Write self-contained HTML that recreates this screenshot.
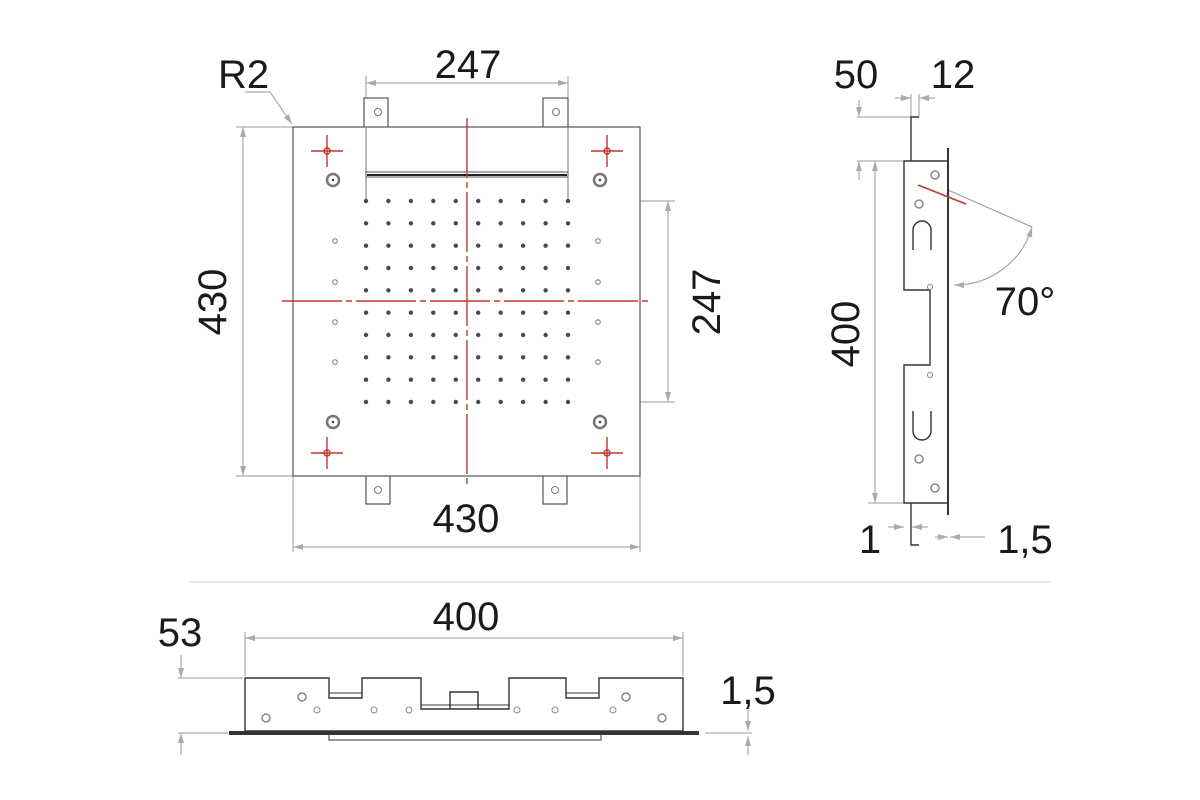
<!DOCTYPE html>
<html><head><meta charset="utf-8"><style>
html,body{margin:0;padding:0;background:#fff;}
svg{display:block;}
text{font-family:"Liberation Sans",sans-serif;fill:#1a1a1a;}
</style></head><body>
<svg width="1200" height="800" viewBox="0 0 1200 800" xmlns="http://www.w3.org/2000/svg">
<defs>
<marker id="ar" viewBox="0 0 10 6" refX="10" refY="3" markerWidth="10" markerHeight="6" orient="auto-start-reverse" markerUnits="userSpaceOnUse"><path d="M0,0 L10,3 L0,6 z" fill="#aaa"/></marker>
</defs>

<!-- FRONT VIEW -->
<g stroke="#999" stroke-width="1" fill="none">
  <!-- dimension 247 top -->
  <line x1="366" y1="76" x2="366" y2="128"/>
  <line x1="568" y1="76" x2="568" y2="128"/>
  <line x1="366" y1="83" x2="568" y2="83" marker-start="url(#ar)" marker-end="url(#ar)"/>
  <!-- left 430 -->
  <line x1="236" y1="127" x2="293" y2="127"/>
  <line x1="236" y1="476" x2="293" y2="476"/>
  <line x1="243" y1="127" x2="243" y2="476" marker-start="url(#ar)" marker-end="url(#ar)"/>
  <!-- bottom 430 -->
  <line x1="293" y1="476" x2="293" y2="552"/>
  <line x1="640" y1="476" x2="640" y2="552"/>
  <line x1="293" y1="547" x2="640" y2="547" marker-start="url(#ar)" marker-end="url(#ar)"/>
  <!-- right 247 -->
  <line x1="366" y1="201" x2="675" y2="201"/>
  <line x1="366" y1="402" x2="675" y2="402"/>
  <line x1="668" y1="201" x2="668" y2="402" marker-start="url(#ar)" marker-end="url(#ar)"/>
  <!-- R2 leader -->
  <polyline points="245,92 270,92 292,124" marker-end="url(#ar)"/>
</g>
<g stroke="#555" stroke-width="1.2" fill="#fff">
  <rect x="364" y="98" width="24" height="32"/>
  <rect x="543" y="98" width="25" height="32"/>
  <rect x="366" y="474" width="24" height="30"/>
  <rect x="543" y="474" width="24" height="30"/>
  <rect x="293" y="127" width="347" height="349"/>
</g>
<g stroke="#777" stroke-width="1" fill="none">
  <line x1="366" y1="127" x2="366" y2="201"/>
  <line x1="568" y1="127" x2="568" y2="201"/>
  <circle cx="378" cy="112" r="3.5"/><circle cx="556" cy="112" r="3.5"/>
  <circle cx="378" cy="490" r="3.5"/><circle cx="555" cy="490" r="3.5"/>
  <circle cx="335" cy="241" r="2.3"/><circle cx="335" cy="282" r="2.3"/><circle cx="335" cy="322" r="2.3"/><circle cx="335" cy="362" r="2.3"/>
  <circle cx="598" cy="241" r="2.3"/><circle cx="598" cy="282" r="2.3"/><circle cx="598" cy="322" r="2.3"/><circle cx="598" cy="362" r="2.3"/>
</g>
<rect x="366" y="172" width="202" height="5" fill="#fff" stroke="#555" stroke-width="1"/>
<line x1="367" y1="175" x2="567" y2="175" stroke="#222" stroke-width="2"/>
<g stroke="#777" stroke-width="2.5" fill="none">
  <circle cx="333" cy="180" r="6"/><circle cx="600" cy="180" r="6"/>
  <circle cx="333" cy="422" r="6"/><circle cx="600" cy="422" r="6"/>
</g>
<g fill="#444">
  <circle cx="333" cy="180" r="1.3"/><circle cx="600" cy="180" r="1.3"/>
  <circle cx="333" cy="422" r="1.3"/><circle cx="600" cy="422" r="1.3"/>
</g>
<g fill="#444" id="dots">
<script>/* none */</script>
</g>
<g fill="#4a4a4a">
<!-- 10x10 dot grid -->
<circle cx="366" cy="201" r="2.2"/><circle cx="388.4" cy="201" r="2.2"/><circle cx="410.9" cy="201" r="2.2"/><circle cx="433.3" cy="201" r="2.2"/><circle cx="455.8" cy="201" r="2.2"/><circle cx="478.2" cy="201" r="2.2"/><circle cx="500.7" cy="201" r="2.2"/><circle cx="523.1" cy="201" r="2.2"/><circle cx="545.6" cy="201" r="2.2"/><circle cx="568" cy="201" r="2.2"/>
<circle cx="366" cy="223.3" r="2.2"/><circle cx="388.4" cy="223.3" r="2.2"/><circle cx="410.9" cy="223.3" r="2.2"/><circle cx="433.3" cy="223.3" r="2.2"/><circle cx="455.8" cy="223.3" r="2.2"/><circle cx="478.2" cy="223.3" r="2.2"/><circle cx="500.7" cy="223.3" r="2.2"/><circle cx="523.1" cy="223.3" r="2.2"/><circle cx="545.6" cy="223.3" r="2.2"/><circle cx="568" cy="223.3" r="2.2"/>
<circle cx="366" cy="245.7" r="2.2"/><circle cx="388.4" cy="245.7" r="2.2"/><circle cx="410.9" cy="245.7" r="2.2"/><circle cx="433.3" cy="245.7" r="2.2"/><circle cx="455.8" cy="245.7" r="2.2"/><circle cx="478.2" cy="245.7" r="2.2"/><circle cx="500.7" cy="245.7" r="2.2"/><circle cx="523.1" cy="245.7" r="2.2"/><circle cx="545.6" cy="245.7" r="2.2"/><circle cx="568" cy="245.7" r="2.2"/>
<circle cx="366" cy="268" r="2.2"/><circle cx="388.4" cy="268" r="2.2"/><circle cx="410.9" cy="268" r="2.2"/><circle cx="433.3" cy="268" r="2.2"/><circle cx="455.8" cy="268" r="2.2"/><circle cx="478.2" cy="268" r="2.2"/><circle cx="500.7" cy="268" r="2.2"/><circle cx="523.1" cy="268" r="2.2"/><circle cx="545.6" cy="268" r="2.2"/><circle cx="568" cy="268" r="2.2"/>
<circle cx="366" cy="290.3" r="2.2"/><circle cx="388.4" cy="290.3" r="2.2"/><circle cx="410.9" cy="290.3" r="2.2"/><circle cx="433.3" cy="290.3" r="2.2"/><circle cx="455.8" cy="290.3" r="2.2"/><circle cx="478.2" cy="290.3" r="2.2"/><circle cx="500.7" cy="290.3" r="2.2"/><circle cx="523.1" cy="290.3" r="2.2"/><circle cx="545.6" cy="290.3" r="2.2"/><circle cx="568" cy="290.3" r="2.2"/>
<circle cx="366" cy="312.7" r="2.2"/><circle cx="388.4" cy="312.7" r="2.2"/><circle cx="410.9" cy="312.7" r="2.2"/><circle cx="433.3" cy="312.7" r="2.2"/><circle cx="455.8" cy="312.7" r="2.2"/><circle cx="478.2" cy="312.7" r="2.2"/><circle cx="500.7" cy="312.7" r="2.2"/><circle cx="523.1" cy="312.7" r="2.2"/><circle cx="545.6" cy="312.7" r="2.2"/><circle cx="568" cy="312.7" r="2.2"/>
<circle cx="366" cy="335" r="2.2"/><circle cx="388.4" cy="335" r="2.2"/><circle cx="410.9" cy="335" r="2.2"/><circle cx="433.3" cy="335" r="2.2"/><circle cx="455.8" cy="335" r="2.2"/><circle cx="478.2" cy="335" r="2.2"/><circle cx="500.7" cy="335" r="2.2"/><circle cx="523.1" cy="335" r="2.2"/><circle cx="545.6" cy="335" r="2.2"/><circle cx="568" cy="335" r="2.2"/>
<circle cx="366" cy="357.3" r="2.2"/><circle cx="388.4" cy="357.3" r="2.2"/><circle cx="410.9" cy="357.3" r="2.2"/><circle cx="433.3" cy="357.3" r="2.2"/><circle cx="455.8" cy="357.3" r="2.2"/><circle cx="478.2" cy="357.3" r="2.2"/><circle cx="500.7" cy="357.3" r="2.2"/><circle cx="523.1" cy="357.3" r="2.2"/><circle cx="545.6" cy="357.3" r="2.2"/><circle cx="568" cy="357.3" r="2.2"/>
<circle cx="366" cy="379.7" r="2.2"/><circle cx="388.4" cy="379.7" r="2.2"/><circle cx="410.9" cy="379.7" r="2.2"/><circle cx="433.3" cy="379.7" r="2.2"/><circle cx="455.8" cy="379.7" r="2.2"/><circle cx="478.2" cy="379.7" r="2.2"/><circle cx="500.7" cy="379.7" r="2.2"/><circle cx="523.1" cy="379.7" r="2.2"/><circle cx="545.6" cy="379.7" r="2.2"/><circle cx="568" cy="379.7" r="2.2"/>
<circle cx="366" cy="402" r="2.2"/><circle cx="388.4" cy="402" r="2.2"/><circle cx="410.9" cy="402" r="2.2"/><circle cx="433.3" cy="402" r="2.2"/><circle cx="455.8" cy="402" r="2.2"/><circle cx="478.2" cy="402" r="2.2"/><circle cx="500.7" cy="402" r="2.2"/><circle cx="523.1" cy="402" r="2.2"/><circle cx="545.6" cy="402" r="2.2"/><circle cx="568" cy="402" r="2.2"/>
</g>
<!-- red centre lines & crosses -->
<g stroke="#c0392b" stroke-width="1.4" fill="none">
  <line x1="467" y1="118" x2="467" y2="485" stroke-dasharray="60,4,6,4"/>
  <line x1="282" y1="301" x2="652" y2="301" stroke-dasharray="60,4,6,4"/>
  <line x1="311" y1="151" x2="343" y2="151"/><line x1="327" y1="135" x2="327" y2="167"/><circle cx="327" cy="151" r="3"/>
  <line x1="591" y1="151" x2="623" y2="151"/><line x1="607" y1="135" x2="607" y2="167"/><circle cx="607" cy="151" r="3"/>
  <line x1="311" y1="453" x2="343" y2="453"/><line x1="327" y1="437" x2="327" y2="469"/><circle cx="327" cy="453" r="3"/>
  <line x1="591" y1="453" x2="623" y2="453"/><line x1="607" y1="437" x2="607" y2="469"/><circle cx="607" cy="453" r="3"/>
</g>
<text x="218" y="88" font-size="40">R2</text>
<text x="468" y="78" font-size="40" text-anchor="middle">247</text>
<text x="466" y="532" font-size="40" text-anchor="middle">430</text>
<text font-size="40" text-anchor="middle" transform="translate(226,302) rotate(-90)">430</text>
<text font-size="40" text-anchor="middle" transform="translate(720,302) rotate(-90)">247</text>

<!-- SIDE VIEW -->
<g stroke="#999" stroke-width="1" fill="none">
  <line x1="857" y1="117" x2="911" y2="117"/>
  <line x1="857" y1="161" x2="904" y2="161"/>
  <line x1="859" y1="100" x2="859" y2="117" marker-end="url(#ar)"/>
  <line x1="859" y1="180" x2="859" y2="161" marker-end="url(#ar)"/>
  <line x1="868" y1="161" x2="904" y2="161"/>
  <line x1="868" y1="503" x2="904" y2="503"/>
  <line x1="875" y1="161" x2="875" y2="503" marker-start="url(#ar)" marker-end="url(#ar)"/>
  <line x1="895" y1="98" x2="911" y2="98" marker-end="url(#ar)"/>
  <line x1="935" y1="98" x2="919" y2="98" marker-end="url(#ar)"/>
  <line x1="911" y1="94" x2="911" y2="117"/><line x1="919" y1="94" x2="919" y2="117"/>
  <line x1="888" y1="527" x2="904" y2="527" marker-end="url(#ar)"/>
  <line x1="928" y1="527" x2="912" y2="527" marker-end="url(#ar)"/>
  <line x1="935" y1="537" x2="948" y2="537" marker-end="url(#ar)"/>
  <line x1="985" y1="537" x2="950" y2="537" marker-end="url(#ar)"/>
  <line x1="948" y1="190" x2="1032" y2="227"/>
  <path d="M1032,227 A80,80 0 0 1 954,285" marker-start="url(#ar)" marker-end="url(#ar)"/>
</g>
<g stroke="#333" stroke-width="1.4" fill="none">
  <polyline points="919,117 911,117 911,161"/>
  <polyline points="919,545 911,545 911,503"/>
  <path d="M904,161 L948,161 L948,503 L904,503 L904,365 L930,365 L930,290 L904,290 Z"/>
  <line x1="948" y1="148" x2="948" y2="515" stroke-width="2"/>
  <path d="M913,250 V230 A9,9 0 0 1 931,230 V250"/>
  <path d="M913,411 V431 A9,9 0 0 0 931,431 V411"/>
</g>
<g stroke="#888" stroke-width="1.5" fill="none">
  <circle cx="935" cy="175" r="4"/><circle cx="919" cy="204" r="4"/>
  <circle cx="919" cy="459" r="4"/><circle cx="935" cy="488" r="4"/>
  <circle cx="930" cy="287" r="2.5" stroke-width="1"/><circle cx="930" cy="375" r="2.5" stroke-width="1"/>
</g>
<line x1="918" y1="185" x2="966" y2="204" stroke="#c0392b" stroke-width="1.6"/>
<text x="856" y="88" font-size="40" text-anchor="middle">50</text>
<text x="953" y="88" font-size="40" text-anchor="middle">12</text>
<text x="1025" y="315" font-size="40" text-anchor="middle">70°</text>
<text font-size="40" text-anchor="middle" transform="translate(859,334) rotate(-90)">400</text>
<text x="870" y="553" font-size="40" text-anchor="middle">1</text>
<text x="1025" y="553" font-size="40" text-anchor="middle">1,5</text>

<line x1="190" y1="582" x2="1050" y2="582" stroke="#ccc" stroke-width="1"/>

<!-- BOTTOM VIEW -->
<g stroke="#999" stroke-width="1" fill="none">
  <line x1="245" y1="632" x2="245" y2="676"/>
  <line x1="683" y1="632" x2="683" y2="676"/>
  <line x1="245" y1="638" x2="683" y2="638" marker-start="url(#ar)" marker-end="url(#ar)"/>
  <line x1="178" y1="678" x2="243" y2="678"/>
  <line x1="178" y1="733" x2="228" y2="733"/>
  <line x1="181" y1="655" x2="181" y2="678" marker-end="url(#ar)"/>
  <line x1="181" y1="755" x2="181" y2="733" marker-end="url(#ar)"/>
  <line x1="705" y1="733" x2="752" y2="733"/>
  <line x1="748" y1="710" x2="748" y2="731" marker-end="url(#ar)"/>
  <line x1="748" y1="755" x2="748" y2="736" marker-end="url(#ar)"/>
</g>
<g stroke="#333" stroke-width="1.4" fill="none">
  <path d="M245,678 H329 V698 H362 V678 H421 V709 H509 V678 H566 V698 H599 V678 H683 V731 H245 Z"/>
  <path d="M450,709 V692 H478 V709"/>
  <line x1="329" y1="693" x2="362" y2="693" stroke-width="1"/>
  <line x1="566" y1="693" x2="599" y2="693" stroke-width="1"/>
  <line x1="421" y1="705" x2="509" y2="705" stroke-width="1"/>
  <rect x="329" y="734" width="272" height="6" stroke-width="1"/>
</g>
<rect x="229" y="731" width="470" height="4" fill="#333"/>
<g stroke="#888" stroke-width="1.5" fill="none">
  <circle cx="302" cy="697" r="4"/><circle cx="266" cy="718" r="4"/>
  <circle cx="626" cy="697" r="4"/><circle cx="662" cy="718" r="4"/>
  <circle cx="317" cy="710" r="3" stroke-width="1"/><circle cx="374" cy="710" r="3" stroke-width="1"/>
  <circle cx="409" cy="710" r="3" stroke-width="1"/><circle cx="517" cy="710" r="3" stroke-width="1"/>
  <circle cx="555" cy="710" r="3" stroke-width="1"/><circle cx="613" cy="710" r="3" stroke-width="1"/>
</g>
<text x="466" y="630" font-size="40" text-anchor="middle">400</text>
<text x="180" y="646" font-size="40" text-anchor="middle">53</text>
<text x="748" y="704" font-size="40" text-anchor="middle">1,5</text>
</svg>
</body></html>
